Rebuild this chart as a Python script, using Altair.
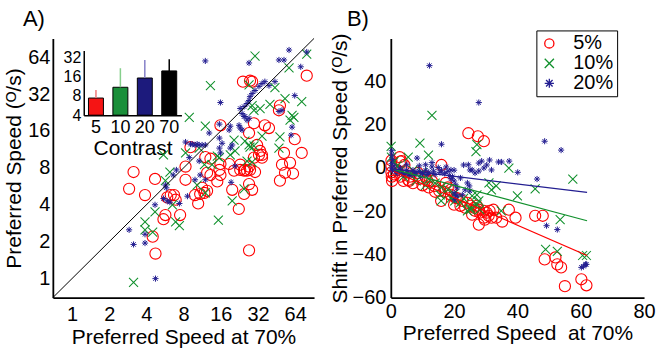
import altair as alt
import pandas as pd

FONT = "Liberation Sans"
TFONT = "Liberation Sans, DejaVu Sans"

SERIES = ["5%", "10%", "20%"]
SERIES_COLORS = ["#ff0000", "#10902c", "#231e91"]
X_PATH = "M-1,-1L1,1M-1,1L1,-1"
STAR_PATH = "M-1,0L1,0M0,-1L0,1M-0.71,-0.71L0.71,0.71M-0.71,0.71L0.71,-0.71"
SERIES_SHAPES = ["circle", X_PATH, STAR_PATH]
SERIES_SIZES = [125, 38, 105]
SERIES_STROKES = [1.1, 1.0, 1.8]

# ---------------- Panel A: preferred speed at contrast vs at 70% ----------------
a_red = [[79.4,45.2],[24.2,40.4],[27.6,41.1],[28.7,40.4],[48.2,25.8],[47.3,23.6],[29.7,18.5],[36.4,17.8],
         [39.3,16.9],[27.1,15.4],[63.5,13.7],[15.9,17.8],[9.1,11.8],[31.5,12.3],[33.3,11.0],[32.6,10.2],
         [34.5,10.2],[52.0,10.6],[72.3,10.6],[29.7,9.7],[12.0,9.8],[13.2,9.5],[15.9,8.6],[18.7,8.6],
         [23.0,8.5],[50.1,8.5],[58.2,8.8],[27.1,8.2],[8.3,8.2],[8.3,6.4],[15.6,7.7],[15.9,7.0],[12.4,7.3],
         [13.2,7.0],[20.5,7.6],[23.0,7.7],[24.7,7.6],[26.1,7.6],[27.6,7.7],[30.3,7.4],[25.1,7.7],[34.5,9.7],
         [53.0,7.3],[61.5,7.2],[48.2,6.3],[15.0,6.2],[27.1,5.9],[28.7,5.3],[19.8,5.3],[24.7,4.9],[11.3,5.5],
         [12.4,5.2],[11.8,5.0],[9.9,4.8],[10.9,4.9],[10.5,4.1],[7.5,3.3],[22.4,3.7],[27.1,1.7],[3.15,7.4],
         [2.9,5.4],[4.7,6.5],[3.9,4.8],[6.3,4.8],[6.7,4.8],[6.9,4.4],[5.9,4.6],[5.7,3.3],[5.5,3.05],
         [4.5,2.2],[4.74,1.6]]
a_green = [[30.3,65.4],[79.4,67.9],[57.1,52.3],[13.2,37.5],[27.1,38.1],[43.9,36.1],[53.0,29.4],[72.3,27.8],
           [40.0,26.4],[33.3,24.4],[28.7,25.8],[29.7,23.6],[8.9,20.7],[12.0,17.5],[60.4,21.4],[62.5,20.7],
           [58.2,19.6],[34.5,14.5],[20.5,13.5],[48.2,14.3],[25.1,13.2],[27.1,12.3],[27.6,11.8],[29.7,12.1],
           [19.1,10.2],[20.9,11.0],[47.3,11.6],[10.7,11.6],[8.3,10.6],[15.0,10.0],[15.6,9.7],[13.6,8.5],
           [26.1,9.1],[11.8,8.5],[28.7,8.9],[24.7,5.4],[19.8,4.3],[15.3,3.0],[12.0,5.0],[10.3,5.8],
           [5.5,10.2],[6.2,7.4],[5.7,6.3],[6.5,4.0],[4.7,3.5],[3.9,2.9],[3.9,2.5],[4.5,2.4],[6.9,2.9],
           [7.4,2.7],[3.15,0.93]]
a_blue = [[12.0,59.6],[27.1,57.4],[57.1,73.2],[79.4,70.5],[47.3,60.7],[52.0,60.7],[71.0,53.4],[15.9,27.3],
          [36.4,40.4],[34.5,39.0],[32.6,37.0],[30.3,34.2],[28.7,32.3],[27.6,30.5],[27.1,28.4],[26.1,26.8],
          [24.7,25.3],[23.0,24.4],[23.8,22.2],[25.1,21.0],[27.1,20.3],[26.1,19.6],[24.7,21.0],[43.9,40.4],
          [39.3,37.5],[63.5,31.1],[50.1,23.6],[47.3,23.1],[60.4,17.2],[59.3,14.8],[22.5,17.8],[23.0,16.9],
          [23.8,16.3],[19.1,17.5],[18.7,16.3],[15.6,18.2],[12.9,15.4],[9.1,12.5],[9.4,12.5],[9.9,12.3],
          [10.3,12.5],[10.7,12.3],[11.3,12.3],[12.0,12.3],[8.3,13.0],[15.6,14.0],[16.4,12.7],[15.6,11.6],
          [15.9,10.6],[19.8,12.3],[19.1,11.6],[8.9,9.7],[10.7,9.1],[9.9,6.4],[12.0,6.4],[10.9,7.0],
          [19.4,6.1],[20.9,8.3],[8.6,4.7],[7.0,7.7],[6.6,7.0],[5.7,5.8],[5.8,5.5],[5.5,4.5],[5.9,4.3],
          [6.2,4.2],[4.7,4.0],[7.4,4.1],[2.9,2.5],[3.9,2.3],[3.15,1.9],[3.9,1.95],[4.74,1.0]]
diag_ends = [0.7, 91]

# inset bar chart
inset_contrast = ["5", "10", "20", "70"]
inset_mean = [7.4, 10.9, 15.2, 19.6]
inset_upper = [9.9, 21.6, 29.0, 29.7]
inset_base = 4
BAR_COLORS = ["#f51414", "#1a8f3a", "#1c1a7c", "#000000"]
ERR_COLORS = ["#f27a7a", "#86cf8c", "#8580c8", "#000000"]

# ---------------- Panel B: shift in preferred speed ----------------
b_red = [[24.5,16.1],[27.5,14.7],[29.4,12.4],[16.0,1.4],[2.8,5.0],[3.4,3.2],[3.0,3.0],[5.5,-5.5],
         [8.6,-2.3],[11.6,-6.0],[13.8,-8.3],[15.3,-10.6],[15.9,-15.2],[17.4,-6.9],[19.0,-12.4],[20.5,-13.8],
         [22.0,-17.5],[22.6,-15.2],[24.2,-16.1],[23.5,-18.4],[25.1,-17.5],[26.3,-18.4],[27.2,-17.5],
         [27.8,-19.3],[26.6,-19.8],[25.7,-21.6],[28.1,-20.7],[29.4,-19.8],[30.3,-20.7],[31.2,-19.8],
         [32.4,-19.3],[30.9,-22.1],[29.4,-23.0],[29.7,-23.9],[31.8,-23.0],[33.3,-23.0],[37.3,-19.3],
         [39.4,-23.0],[45.6,-22.1],[48.0,-22.1],[27.8,-26.2],[35.2,-24.8],[48.6,-42.3],[52.0,-41.4],
         [52.6,-44.6],[53.8,-46.0],[55.0,-54.7],[60.2,-51.5],[61.8,-54.3],[0.2,-2],[0.3,-4],[0.4,-6],
         [1,-3],[2,-1],[3,-4],[4,-6],[6,-4],[7,-7],[9,-5],[10,-8],[12,-9],[13,-6],[14,-11],[17,-11],
         [18,-9],[5,-2],[11,-4],[19,-10],[21,-14],[20,-17],[4.3,1.4],[5.8,-6.0],[0.2,1],[0.2,3.5]]
b_green = [[13.0,24.4],[9.2,11.5],[27.2,10.8],[26.9,7.6],[11.9,6.0],[0.1,10.0],[5.5,5.0],[37.3,0.0],
           [57.5,-5.1],[45.6,-9.7],[53.5,-23.9],[48.9,-37.7],[52.6,-38.6],[60.6,-40.5],[61.8,-40.5],
           [31.0,-6.9],[31.8,-10.1],[33.3,-8.3],[27.2,-12.4],[25.7,-12.9],[27.8,-15.2],[27.2,-17.0],
           [34.9,-19.8],[40.0,-12.9],[28.1,-19.3],[25.1,-19.3],[24.2,-19.8],[15.6,-12.4],[20.2,-15.2],
           [15.9,-15.2],[25.1,-18.4],[4,-4],[6,-3],[8,-6],[10,-2],[12,-5],[14,-7],[16,-9],[18,-10],
           [20,-12],[11,-8],[22,-16],[3,-1],[2,1],[1,3],[0.2,5],[7,-1],[19,-14],[23,-14]]
b_blue = [[12.2,47.4],[27.8,30.3],[48.6,12.4],[53.8,8.3],[16.0,11.0],[0.3,8.0],[0.3,6.0],[0.5,4.0],
          [8.3,4.6],[23.0,1.4],[25.0,-0.9],[27.8,2.3],[28.7,3.2],[31.2,3.7],[30.3,1.4],[34.0,2.8],
          [35.0,2.8],[37.4,3.2],[19.0,-0.9],[46.2,-5.1],[40.1,-2.0],[22.0,-4.6],[24.2,-6.9],[24.8,-8.3],
          [23.5,-10.1],[25.0,-10.6],[22.6,-12.4],[20.5,-12.9],[20.2,-14.7],[25.7,-0.9],[26.6,-2.3],
          [27.8,-1.4],[29.4,0.0],[31.8,-0.9],[20.0,-6.0],[20.5,-7.8],[21.0,-9.2],[20.0,-11.5],[21.0,-12.9],
          [49.2,-26.7],[52.6,-28.5],[60.2,-46.0],[60.9,-45.5],[61.5,-44.6],[61.8,-44.6],
          [0.3,2],[0.3,0],[0.5,-1],[1,1],[1.5,-1.5],[2,-2.5],[3,0],[3.5,-2],[4,-3],[5,-1],[5.5,-2.5],
          [6,-3.5],[7,-1],[7.5,-3],[8,-2],[9,-1.5],[9.5,-4],[10,-2.5],[11,-1],[11.5,-3],[12,-2],[13,0.5],
          [13.5,-1.5],[14,-3],[15,0.2],[15.5,-2],[16,-1],[17,-2.5],[17.5,0.5],[18,-1.5],[18.5,-3.5],
          [19,-5],[19.5,-4],[20,-1],[5,1.5],[9,1],[11,1.5],[24.5,1.5],[13,2.5]]
fit_x = [1, 62]
fit_red = [-1.6, -40.5]
fit_green = [-0.6, -24.4]
fit_blue = [-0.4, -11.3]

panel_labels = ["A)", "B)"]


def frame(pairs, label, ycol):
    return pd.DataFrame({"x": [p[0] for p in pairs], ycol: [p[1] for p in pairs], "c": label})


dfA = pd.concat([frame(a_red, "5%", "y"), frame(a_green, "10%", "y"), frame(a_blue, "20%", "y")],
                ignore_index=True)
dfA["o"] = range(len(dfA))
dfB = pd.concat([frame(b_red, "5%", "s"), frame(b_green, "10%", "s"), frame(b_blue, "20%", "s")],
                ignore_index=True)
dfB["o"] = range(len(dfB))

LEG = alt.Legend(title=None, orient="none", legendX=146, legendY=-8, strokeColor="black",
                 fillColor="white", padding=3, labelFontSize=20, labelFont=FONT, labelColor="black",
                 symbolSize=85, symbolStrokeWidth=1.3, rowPadding=-2, labelOffset=14)


def point_layer(df, x, y, legend):
    return alt.Chart(df).mark_point(filled=False, opacity=1).encode(
        x=x, y=y,
        color=alt.Color("c:N", scale=alt.Scale(domain=SERIES, range=SERIES_COLORS), legend=legend),
        shape=alt.Shape("c:N", scale=alt.Scale(domain=SERIES, range=SERIES_SHAPES), legend=legend),
        size=alt.Size("c:N", scale=alt.Scale(domain=SERIES, range=SERIES_SIZES), legend=None),
        strokeWidth=alt.StrokeWidth("c:N", scale=alt.Scale(domain=SERIES, range=SERIES_STROKES),
                                    legend=None),
        order=alt.Order("o:Q"))


def panel_label(text, dx):
    return alt.Chart(pd.DataFrame({"t": [text]})).mark_text(
        fontSize=22, font=FONT, align="left", baseline="alphabetic", color="black"
    ).encode(text="t:N", x=alt.value(dx), y=alt.value(-12))


log_scale = alt.Scale(type="log", base=2, domain=[0.7, 91], nice=False)
ticks_log = [1, 2, 4, 8, 16, 32, 64]
xA = alt.X("x:Q", scale=log_scale,
           axis=alt.Axis(values=ticks_log, format="d", title="Preferred Speed at 70%",
                         labelPadding=7, titlePadding=2, labelFlush=False, labelOverlap=False))
yA = alt.Y("y:Q", scale=log_scale,
           axis=alt.Axis(values=ticks_log, format="d", title="Preferred Speed (ᴼ/s)",
                         labelPadding=3, titlePadding=3, labelFlush=False, labelOverlap=False))

ptsA = point_layer(dfA, xA, yA, None)
diag_line = alt.Chart(pd.DataFrame({"x": diag_ends, "y": diag_ends})).mark_line(
    color="black", strokeWidth=1).encode(x=xA, y=yA)
mainA = alt.layer(ptsA, diag_line, panel_label(panel_labels[0], -30))

inset_df = pd.DataFrame({"k": inset_contrast, "m": inset_mean, "u": inset_upper, "b": inset_base})
xI = alt.X("k:N", sort=inset_contrast,
           scale=alt.Scale(range=[31, 129], paddingInner=0.38, paddingOuter=0.19),
           axis=alt.Axis(orient="bottom", offset=-183, title="Contrast", labelAngle=0,
                         labelFontSize=18, labelPadding=3, titlePadding=1, domainWidth=1.5))
yI = alt.Y("m:Q", scale=alt.Scale(type="log", base=2, domain=[4, 41], range=[77, 12], nice=False),
           axis=alt.Axis(orient="left", offset=-31, values=[4, 8, 16, 32], format="d", title=None,
                         labelFontSize=16, labelPadding=3, domainWidth=1.5))
bars = alt.Chart(inset_df).mark_bar(stroke="black", strokeWidth=1, size=15).encode(
    x=xI, y=yI, y2="b:Q",
    fill=alt.Fill("k:N", scale=alt.Scale(domain=inset_contrast, range=BAR_COLORS), legend=None))
errs = alt.Chart(inset_df).mark_rule(strokeWidth=1.5).encode(
    x=xI, y=yI, y2="u:Q",
    stroke=alt.Stroke("k:N", scale=alt.Scale(domain=inset_contrast, range=ERR_COLORS), legend=None))
inset = alt.layer(bars, errs)

panelA = alt.layer(mainA, inset).resolve_scale(x="independent", y="independent").properties(
    width=262, height=260)

xB = alt.X("x:Q", scale=alt.Scale(domain=[0, 80], nice=False),
           axis=alt.Axis(values=[0, 20, 40, 60, 80], title="Preferred Speed\u00a0 at 70%",
                         labelPadding=4, titlePadding=1, labelFlush=False, labelOverlap=False))
yB = alt.Y("s:Q", scale=alt.Scale(domain=[-60, 60], nice=False),
           axis=alt.Axis(values=[-60, -40, -20, 0, 20, 40], title="Shift in Preferred Speed (ᴼ/s)",
                         labelPadding=5, titlePadding=2, labelFlush=False, labelOverlap=False))
ptsB = point_layer(dfB, xB, yB, LEG)

fit_df = pd.DataFrame({
    "x": fit_x * 3,
    "s": fit_red + fit_green + fit_blue,
    "c": ["5%"] * 2 + ["10%"] * 2 + ["20%"] * 2,
})
fit_layers = [
    alt.Chart(fit_df).transform_filter(alt.datum.c == lab).mark_line(color=col, strokeWidth=1.2)
    .encode(x=xB, y=yB)
    for lab, col in zip(SERIES, SERIES_COLORS)
]
panelB = alt.layer(ptsB, *fit_layers, panel_label(panel_labels[1], -44)).properties(
    width=254, height=260)

chart = alt.hconcat(panelA, panelB, spacing=13).resolve_legend(
    color="independent", shape="independent"
).properties(
    padding={"left": 3, "top": 8, "right": 0, "bottom": 0}
).configure_view(stroke=None).configure_axis(
    domainColor="black", domainWidth=1.8, ticks=False, grid=False,
    labelFont=FONT, labelFontSize=20, labelColor="black",
    titleFont=TFONT, titleFontSize=21, titleFontWeight="normal", titleColor="black",
)

chart.save("out.html", embed_options={"renderer": "svg", "actions": False})
